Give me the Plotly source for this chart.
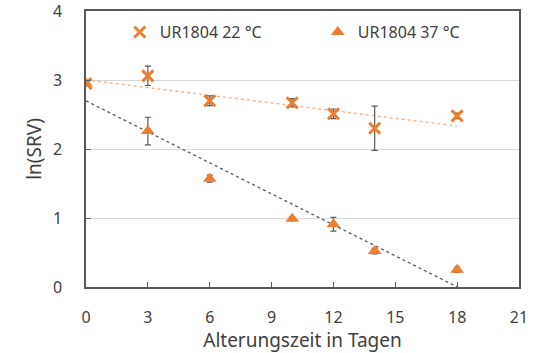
import numpy as np
import plotly.graph_objects as go

days = [0, 3, 6, 10, 12, 14, 18]
y22 = [2.95, 3.06, 2.70, 2.67, 2.51, 2.30, 2.48]
e22 = [0.03, 0.14, 0.07, 0.06, 0.07, 0.32, 0.04]
y37 = [2.95, 2.26, 1.57, 0.99, 0.91, 0.52, 0.25]
e37 = [0.03, 0.20, 0.05, 0.03, 0.10, 0.04, 0.04]
x_ticks = [0, 3, 6, 9, 12, 15, 18, 21]
y_ticks = [0, 1, 2, 3, 4]
names = ["UR1804 22 °C", "UR1804 37 °C"]

orange = "#ED7D31"
font = "Noto Sans"

fig = go.Figure()

# trendlines (linear fits)
xs = np.array([days[0], days[-1]])
for y, col in [(y22, "#F4B183"), (y37, "#595959")]:
    k, d = np.polyfit(days, y, 1)
    fig.add_trace(go.Scatter(x=xs, y=k * xs + d, mode="lines",
                             line=dict(color=col, width=1.3, dash="dot"),
                             showlegend=False, hoverinfo="skip"))

fig.add_trace(go.Scatter(
    x=days, y=y37, mode="markers", name=names[1],
    marker=dict(symbol="triangle-up", size=12, color=orange),
    error_y=dict(type="data", array=e37, color="#595959", thickness=1.2, width=3)))
fig.add_trace(go.Scatter(
    x=days, y=y22, mode="markers", name=names[0],
    marker=dict(symbol="x-thin", size=11, color=orange, line=dict(width=3, color=orange)),
    error_y=dict(type="data", array=e22, color="#595959", thickness=1.2, width=3)))

fig.update_layout(
    width=540, height=353,
    margin=dict(l=86, r=21, t=11, b=66),
    paper_bgcolor="white", plot_bgcolor="white",
    font=dict(family=font, size=16, color="#404040"),
    legend=dict(orientation="h", x=0.078, y=0.985, xanchor="left", yanchor="top",
                traceorder="reversed", entrywidth=153, entrywidthmode="pixels",
                font=dict(size=16, color="#404040"), bgcolor="rgba(0,0,0,0)",
                itemwidth=30),
    showlegend=True,
)
fig.update_xaxes(range=[0, 21], tickvals=x_ticks, ticks="inside", ticklen=5,
                 tickcolor="#595959", showline=True, linecolor="#595959", linewidth=1.5,
                 mirror=True, showgrid=False, zeroline=False, automargin=False,
                 ticklabelstandoff=15,
                 title=dict(text="Alterungszeit in Tagen", standoff=7))
fig.update_yaxes(range=[0, 4], tickvals=y_ticks, ticks="inside", ticklen=5,
                 tickcolor="#595959", showline=True, linecolor="#595959", linewidth=1.5,
                 mirror=True, showgrid=True, gridcolor="#D9D9D9", gridwidth=1,
                 zeroline=False, ticklabelstandoff=19, automargin=False,
                 ticklabeloverflow="allow",
                 title=dict(text="ln(SRV)", standoff=6))

fig.write_html("out.html", post_script="document.body.style.margin='0';",
               config={"displayModeBar": False})
